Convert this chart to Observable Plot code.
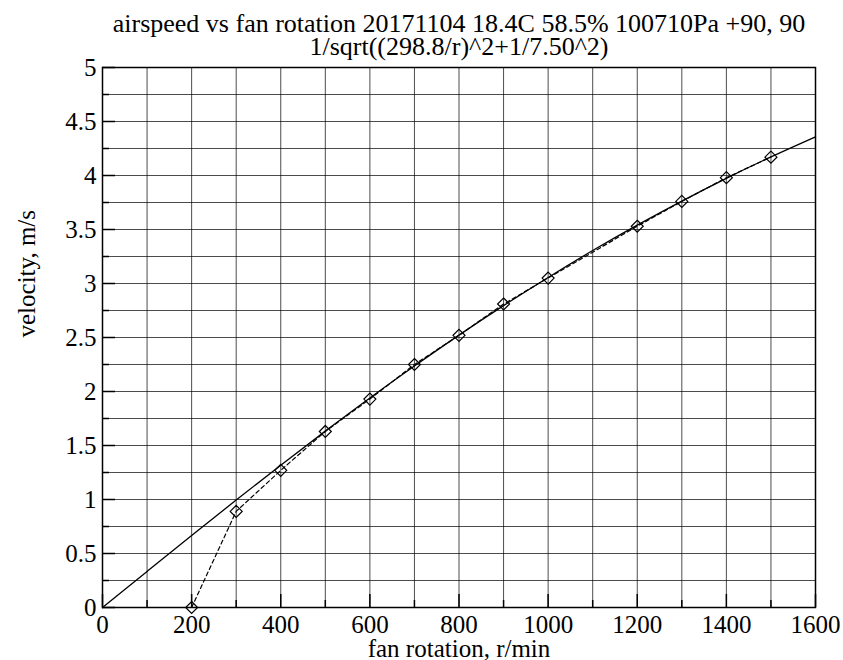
<!DOCTYPE html>
<html>
<head>
<meta charset="utf-8">
<script src="https://cdn.jsdelivr.net/npm/d3@7"></script>
<script src="https://cdn.jsdelivr.net/npm/@observablehq/plot@0.6"></script>
<style>
  html, body { margin: 0; padding: 0; background: #fff; }
  #chart svg, #chart svg text { font-family: "Liberation Serif", "Times New Roman", serif !important; }
</style>
</head>
<body>
<div id="chart"></div>
<script>
const titleLine1 = "airspeed vs fan rotation 20171104 18.4C 58.5% 100710Pa +90, 90";
const titleLine2 = "1/sqrt((298.8/r)^2+1/7.50^2)";
const xLabel = "fan rotation, r/min";
const yLabel = "velocity, m/s";

// measured points
const rpm = [200, 300, 400, 500, 600, 700, 800, 900, 1000, 1200, 1300, 1400, 1500];
const velocity = [0, 0.89, 1.27, 1.63, 1.93, 2.25, 2.52, 2.81, 3.05, 3.53, 3.76, 3.98, 4.17];

// fitted curve, read at 100 r/min steps
const fitRpm = [0, 100, 200, 300, 400, 500, 600, 700, 800, 900, 1000, 1100, 1200, 1300, 1400, 1500, 1600];
const fitVel = [0, 0.334, 0.667, 0.995, 1.318, 1.633, 1.940, 2.236, 2.522, 2.795, 3.056, 3.305, 3.540, 3.763, 3.974, 4.172, 4.358];

// ticks
const xTicks = [0, 200, 400, 600, 800, 1000, 1200, 1400, 1600];
const xMinor = [100, 300, 500, 700, 900, 1100, 1300, 1500];
const yTicks = [0, 0.5, 1, 1.5, 2, 2.5, 3, 3.5, 4, 4.5, 5];
const yMinor = [0.25, 0.75, 1.25, 1.75, 2.25, 2.75, 3.25, 3.75, 4.25, 4.75];
const xGrid = xTicks.concat(xMinor);
const yGrid = yTicks.concat(yMinor);

const measured = rpm.map((r, i) => ({r, v: velocity[i]}));
const fit = fitRpm.map((r, i) => ({r, v: fitVel[i]}));

const W = 843, H = 660;
const mL = 102, mR = 28, mT = 67, mB = 53;
const fw = W - mL - mR, fh = H - mT - mB;
const majorLen = 13, minorLen = 7;
const FONT = "'Liberation Serif', 'Times New Roman', serif";

const chart = Plot.plot({
  width: W,
  height: H,
  marginLeft: mL,
  marginRight: mR,
  marginTop: mT,
  marginBottom: mB,
  style: {fontFamily: FONT, fontSize: "25px", background: "#fff", color: "#000"},
  x: {domain: [0, 1600], label: null},
  y: {domain: [0, 5], label: null},
  marks: [
    Plot.gridX(xGrid, {stroke: "#000", strokeOpacity: 0.7, strokeWidth: 1}),
    Plot.gridY(yGrid, {stroke: "#000", strokeOpacity: 0.7, strokeWidth: 1}),
    // inward ticks on left and bottom
    Plot.tickY(yTicks, {y: d => d, insetRight: fw - majorLen, stroke: "#000", strokeWidth: 1.5}),
    Plot.tickY(yMinor, {y: d => d, insetRight: fw - minorLen, stroke: "#000", strokeWidth: 1.5}),
    Plot.tickX(xTicks, {x: d => d, insetTop: fh - majorLen, stroke: "#000", strokeWidth: 1.5}),
    Plot.tickX(xMinor, {x: d => d, insetTop: fh - minorLen, stroke: "#000", strokeWidth: 1.5}),
    Plot.frame({stroke: "#000", strokeWidth: 1.5}),
    Plot.axisX({ticks: xTicks, tickSize: 0, tickPadding: 8, tickFormat: d => String(d), label: null, fontSize: 25, fontFamily: FONT}),
    Plot.axisY({ticks: yTicks, tickSize: 0, tickPadding: 6, tickFormat: d => String(d), label: null, fontSize: 25, fontFamily: FONT}),
    Plot.line(fit, {x: "r", y: "v", curve: "natural", stroke: "#000", strokeWidth: 1.3}),
    Plot.line(measured, {x: "r", y: "v", stroke: "#000", strokeWidth: 1.2, strokeDasharray: "4,3"}),
    Plot.dot(measured, {x: "r", y: "v", symbol: "diamond2", r: 5.4, stroke: "#000", strokeWidth: 1.2, fill: "none"}),
    Plot.text([titleLine1], {frameAnchor: "top", lineAnchor: "middle", dy: -44, fontSize: 26, fontFamily: FONT, fill: "#000"}),
    Plot.text([titleLine2], {frameAnchor: "top", lineAnchor: "middle", dy: -21, fontSize: 26, fontFamily: FONT, fill: "#000"}),
    Plot.text([xLabel], {frameAnchor: "bottom", lineAnchor: "middle", dy: 41, fontSize: 25, fontFamily: FONT, fill: "#000"}),
    Plot.text([yLabel], {frameAnchor: "left", lineAnchor: "middle", dx: -76, rotate: -90, fontSize: 25, fontFamily: FONT, fill: "#000"})
  ]
});
document.getElementById("chart").appendChild(chart);
</script>
</body>
</html>
